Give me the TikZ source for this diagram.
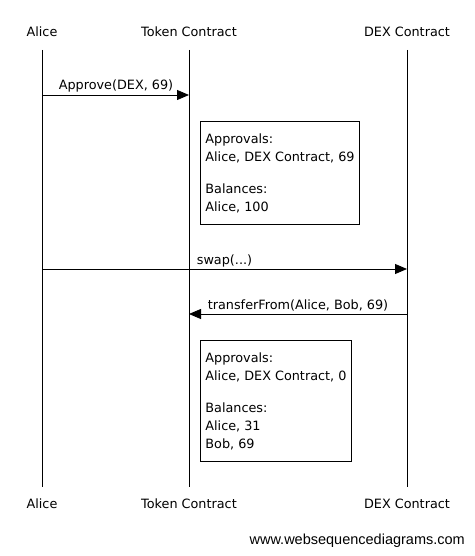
\documentclass[tikz,border=0pt]{standalone}
\usepackage{fontspec}
\setmainfont{DejaVu Sans}
\newfontfamily\wmfont{Liberation Sans}
\usetikzlibrary{arrows.meta}
\begin{document}
\begin{tikzpicture}[x=1pt,y=-1pt,
  actor/.style={inner sep=0pt,font=\fontsize{12.8}{15}\selectfont},
  msg/.style={-{Triangle[length=12pt,width=10pt]},line width=0.8pt},
  lbl/.style={inner sep=0pt,anchor=base,font=\fontsize{12.8}{15}\selectfont},
  note/.style={draw,line width=0.8pt,align=left,inner xsep=5pt,inner ysep=12pt,font=\fontsize{12.8}{18}\selectfont,anchor=north west},
  life/.style={line width=0.8pt}]
\useasboundingbox (0,0) rectangle (474,556);
% actors
\node[actor] (aT) at (42,32) {Alice};
\node[actor] (tT) at (189,32) {Token Contract};
\node[actor] (dT) at (407,32) {DEX Contract};
\node[actor] (aB) at (42,504) {Alice};
\node[actor] (tB) at (189,504) {Token Contract};
\node[actor] (dB) at (407,504) {DEX Contract};
% lifeline ends
\coordinate (a0) at (42,50); \coordinate (a1) at (42,487);
\coordinate (t0) at (189,50); \coordinate (t1) at (189,487);
\coordinate (d0) at (407,50); \coordinate (d1) at (407,487);
\draw[life] (a0) -- (a1);
\draw[life] (t0) -- (t1);
\draw[life] (d0) -- (d1);
% messages
\coordinate (m1a) at (42,95); \coordinate (m1b) at (189,95);
\draw[msg] (m1a) -- (m1b);
\node[lbl] (l1) at (116,90) {Approve(DEX, 69)};
\coordinate (m2a) at (42,269); \coordinate (m2b) at (407,269);
\draw[msg] (m2a) -- (m2b);
\node[lbl] (l2) at (224.5,264) {swap(...)};
\coordinate (m3a) at (407,314); \coordinate (m3b) at (189,314);
\draw[msg] (m3a) -- (m3b);
\node[lbl] (l3) at (298,309) {transferFrom(Alice, Bob, 69)};
% notes
\node[note,fill=white] (n1) at (200,121) {Approvals:\\Alice, DEX Contract, 69\\[14pt]Balances:\\Alice, 100};
\node[note,fill=white] (n2) at (200,340) {Approvals:\\Alice, DEX Contract, 0\\[14pt]Balances:\\Alice, 31\\Bob, 69};
% watermark
\node[inner sep=0pt,anchor=east,font=\wmfont\fontsize{14.5}{16}\selectfont] (wm) at (465,541) {www.websequencediagrams.com};
\end{tikzpicture}
\end{document}
